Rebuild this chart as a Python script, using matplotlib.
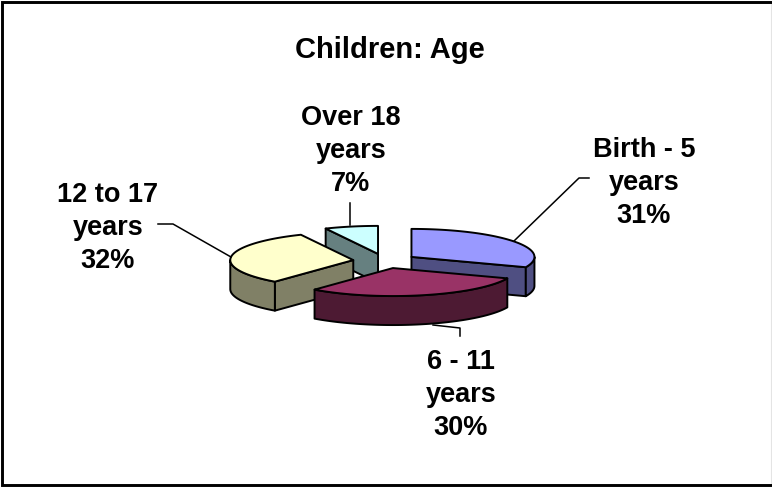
"""
    Children: Age, exploded 3D style pie
"""

import numpy as np
import matplotlib
matplotlib.use("Agg")
import matplotlib.pyplot as plt
from matplotlib.patches import Polygon

plt.rcParams['font.family'] = ['Liberation Sans', 'DejaVu Sans']

title = "Children: Age"
categories = ["Birth - 5\nyears", "6 - 11\nyears", "12 to 17\nyears", "Over 18\nyears"]
values = [31, 30, 32, 7]
topcolors = ['#9999ff', '#993366', '#ffffcc', '#ccffff']
sidecolors = ['#4f4f82', '#4d1a33', '#808066', '#668080']

# label centre and leader line for each slice, in pixels
labelpos = [(644, 183), (461, 395), (108, 228), (351, 151)]
leaders = [
    [(514, 241), (579, 178), (589, 178)],
    [(433, 325), (460, 328), (460, 336)],
    [(231, 257), (173, 224), (158, 224)],
    [(350, 225), (350, 203)],
]

CX, CY = 385, 261
RX, RY = 123, 28
DEPTH = 29
EXPLODE = 0.26
EDGE = 1.4


def ellipsepoint(centre, angle):
    # angle is clockwise from 12 o'clock
    return (centre[0] + RX*np.sin(angle), centre[1] - RY*np.cos(angle))


def arcpoints(centre, a1, a2):
    ts = np.linspace(a1, a2, max(int((a2 - a1)*40), 2))
    return [ellipsepoint(centre, t) for t in ts]


def drop(points):
    return [(x, y + DEPTH) for x, y in points]


def drawslice(ax, start, end, top, side):
    mid = (start + end)/2
    centre = (CX + EXPLODE*RX*np.sin(mid), CY - EXPLODE*RY*np.cos(mid))

    # radial faces that look towards the viewer
    for angle, visible in ((start, np.sin(start) < 0), (end, np.sin(end) > 0)):
        if visible:
            edge = [centre, ellipsepoint(centre, angle)]
            ax.add_patch(Polygon(edge + drop(edge)[::-1], fc=side, ec='black', lw=EDGE, joinstyle='round'))

    # outer wall, only the front half of the ellipse shows
    w1, w2 = max(start, np.pi/2), min(end, 3*np.pi/2)
    if w2 > w1:
        wall = arcpoints(centre, w1, w2)
        ax.add_patch(Polygon(wall + drop(wall)[::-1], fc=side, ec='black', lw=EDGE, joinstyle='round'))

    ax.add_patch(Polygon([centre] + arcpoints(centre, start, end), fc=top, ec='black', lw=EDGE, joinstyle='round'))


fig = plt.figure(figsize=(7.72, 4.87), dpi=100)
ax = fig.add_axes([0, 0, 1, 1])
ax.set_xlim(0, 772)
ax.set_ylim(487, 0)
ax.axis('off')

# chart frame, the right edge is only a faint line in the original
ax.plot([771, 771], [3, 484], color='#e4e4e4', lw=0.8)
ax.plot([772, 2, 2, 772], [2.3, 2.3, 484.6, 484.6], color='black', lw=2.1, solid_joinstyle='miter')

ax.text(390, 50, title, ha='center', va='center', fontsize=21, fontweight='bold')

fractions = np.cumsum([0] + values)/sum(values)*2*np.pi
spans = list(zip(fractions[:-1], fractions[1:]))

# back slices first so the front ones cover them
for i in [3, 0, 2, 1]:
    drawslice(ax, spans[i][0], spans[i][1], topcolors[i], sidecolors[i])

for line in leaders:
    xs, ys = zip(*line)
    ax.plot(xs, ys, color='black', lw=1.1)

for cat, val, pos in zip(categories, values, labelpos):
    ax.text(pos[0], pos[1], "{}\n{}%".format(cat, val), ha='center', va='center',
            fontsize=19.5, fontweight='bold', linespacing=1.37)

fig.savefig('out.png', dpi=100)
